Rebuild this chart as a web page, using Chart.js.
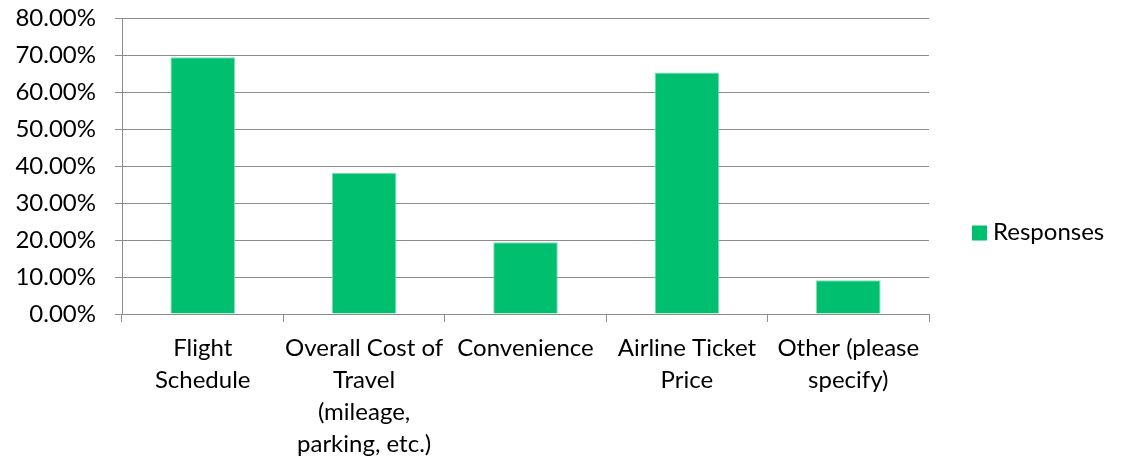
<!DOCTYPE html>
<html>
<head>
<meta charset="utf-8">
<script src="https://cdn.jsdelivr.net/npm/chart.js@4/dist/chart.umd.min.js"></script>
<style>
    html, body { margin: 0; padding: 0; background: #fff; }
    #wrap { width: 1122px; height: 463px; position: relative; }
</style>
</head>
<body>
<div id="wrap"><canvas id="responsesChart"></canvas></div>
<script>
// Chart data
const categories = [
    ['Flight', 'Schedule'],
    ['Overall Cost of', 'Travel', '(mileage,', 'parking, etc.)'],
    'Convenience',
    ['Airline Ticket', 'Price'],
    ['Other (please', 'specify)']
];
const responses = [69.4, 38.2, 19.4, 65.3, 9.1];
const yTicks = [0, 10, 20, 30, 40, 50, 60, 70, 80];

const barGreen = '#00bf6f';
const gridGrey = '#8c8c8c';
const fontFamily = 'Lato, "Open Sans", sans-serif';

// Excel-style legend, centred on the full canvas height on the right
const sideLegend = {
    id: 'sideLegend',
    afterDraw(chart) {
        const ctx = chart.ctx;
        const label = chart.data.datasets[0].label;
        const y = chart.height / 2;
        ctx.save();
        ctx.fillStyle = chart.data.datasets[0].backgroundColor;
        ctx.fillRect(972, y - 6, 15, 15);
        ctx.fillStyle = '#000';
        ctx.font = '24px ' + fontFamily;
        ctx.textBaseline = 'middle';
        ctx.fillText(label, 993, y + 1);
        ctx.restore();
    }
};

const ctx = document.getElementById('responsesChart');
new Chart(ctx, {
    type: 'bar',
    data: {
        labels: categories,
        datasets: [{
            label: 'Responses',
            data: responses,
            backgroundColor: barGreen,
            borderColor: '#7fdcb3',
            borderWidth: 1,
            categoryPercentage: 1,
            barPercentage: 0.4
        }]
    },
    options: {
        responsive: true,
        maintainAspectRatio: false,
        animation: false,
        layout: {
            padding: { top: 18, right: 193, bottom: 0, left: 0 }
        },
        plugins: {
            legend: { display: false },
            tooltip: { enabled: false }
        },
        scales: {
            x: {
                offset: true,
                border: { display: true, color: gridGrey, width: 1 },
                grid: {
                    offset: true,
                    drawOnChartArea: false,
                    color: gridGrey,
                    tickLength: 8
                },
                ticks: {
                    color: '#000',
                    maxRotation: 0,
                    autoSkip: false,
                    padding: 10,
                    font: { family: fontFamily, size: 24, lineHeight: 1.34 }
                },
                afterFit: (scale) => { scale.height = 149; }
            },
            y: {
                min: 0,
                max: 80,
                afterBuildTicks: (scale) => {
                    scale.ticks = yTicks.map(v => ({ value: v }));
                },
                border: { display: true, color: gridGrey, width: 1 },
                grid: {
                    color: gridGrey,
                    tickLength: 7
                },
                ticks: {
                    color: '#000',
                    padding: 19,
                    font: { family: fontFamily, size: 24 },
                    callback: (value) => value.toFixed(2) + '%'
                },
                afterFit: (scale) => {
                    scale.width = 122;
                    scale.paddingTop = 0;
                    scale.paddingBottom = 0;
                }
            }
        }
    },
    plugins: [sideLegend]
});
</script>
</body>
</html>
